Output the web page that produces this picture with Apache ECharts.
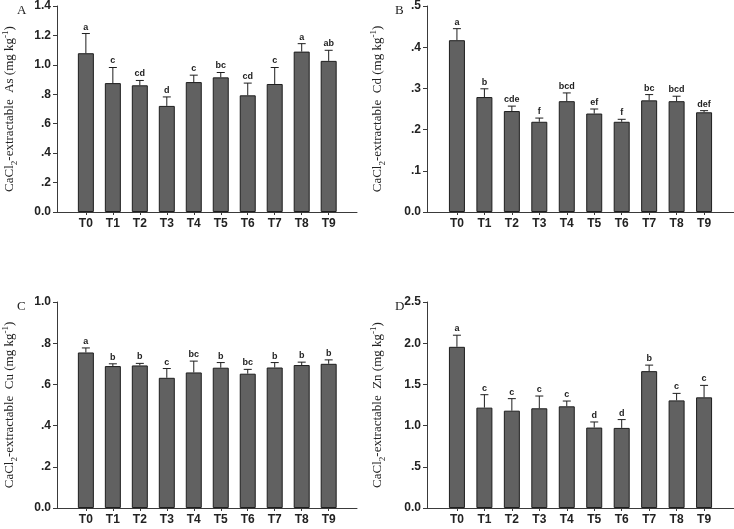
<!DOCTYPE html>
<html>
<head>
    <meta charset="utf-8">
    <title>CaCl2-extractable metals</title>
    <script src="https://cdn.jsdelivr.net/npm/echarts@6/dist/echarts.min.js"></script>
    <style>
        body, html {
            margin: 0;
            background: #fff;
        }

        #main {
            width: 734px;
            height: 529px;
        }
    </style>
</head>
<body>
<div id="main"></div>
<script type="text/javascript">
    var treatments = ['T0', 'T1', 'T2', 'T3', 'T4', 'T5', 'T6', 'T7', 'T8', 'T9'];

    // A: As
    var asMean = [1.079, 0.876, 0.861, 0.721, 0.883, 0.915, 0.793, 0.870, 1.090, 1.027];
    var asTop = [1.213, 0.982, 0.894, 0.782, 0.930, 0.948, 0.876, 0.982, 1.144, 1.099];
    var asLetters = ['a', 'c', 'cd', 'd', 'c', 'bc', 'cd', 'c', 'a', 'ab'];

    // B: Cd
    var cdMean = [0.417, 0.279, 0.245, 0.219, 0.269, 0.239, 0.219, 0.271, 0.269, 0.242];
    var cdTop = [0.445, 0.299, 0.257, 0.228, 0.289, 0.250, 0.225, 0.285, 0.281, 0.246];
    var cdLetters = ['a', 'b', 'cde', 'f', 'bcd', 'ef', 'f', 'bc', 'bcd', 'def'];

    // C: Cu
    var cuMean = [0.755, 0.689, 0.692, 0.632, 0.658, 0.681, 0.652, 0.682, 0.694, 0.700];
    var cuTop = [0.777, 0.700, 0.702, 0.677, 0.713, 0.706, 0.673, 0.706, 0.708, 0.719];
    var cuLetters = ['a', 'b', 'b', 'c', 'bc', 'b', 'bc', 'b', 'b', 'b'];

    // D: Zn
    var znMean = [1.956, 1.218, 1.181, 1.210, 1.234, 0.976, 0.972, 1.661, 1.306, 1.343];
    var znTop = [2.097, 1.375, 1.327, 1.359, 1.298, 1.044, 1.073, 1.734, 1.391, 1.488];
    var znLetters = ['a', 'c', 'c', 'c', 'c', 'd', 'd', 'b', 'c', 'c'];

    var panels = [
        {tag: 'A', metal: 'As', mean: asMean, top: asTop, letters: asLetters, max: 1.4, step: 0.2,
            left: 52, top0: 6, width: 305, xmin: -1.07, xmax: 10.05, gap: 38},
        {tag: 'B', metal: 'Cd', mean: cdMean, top: cdTop, letters: cdLetters, max: 0.5, step: 0.1,
            left: 427, top0: 6, width: 307, xmin: -1.09, xmax: 10.09, gap: 40},
        {tag: 'C', metal: 'Cu', mean: cuMean, top: cuTop, letters: cuLetters, max: 1.0, step: 0.2,
            left: 52, top0: 302, width: 305, xmin: -1.07, xmax: 10.05, gap: 38},
        {tag: 'D', metal: 'Zn', mean: znMean, top: znTop, letters: znLetters, max: 2.5, step: 0.5,
            left: 427, top0: 302, width: 307, xmin: -1.09, xmax: 10.09, gap: 40}
    ];

    var axisColor = '#3a3a3a';
    var sans = 'Arial, "Liberation Sans", sans-serif';
    var serif = '"Times New Roman", "Liberation Serif", serif';

    function tickFmt(v) {
        if (v === 0) return '0.0';
        if (v < 1) return v.toFixed(1).replace('0.', '.');
        return v.toFixed(1);
    }

    var grids = [], xAxes = [], yAxes = [], series = [], titles = [];

    panels.forEach(function (p, k) {
        grids.push({left: p.left, top: p.top0, width: p.width, height: 206});

        xAxes.push({
            type: 'value',
            gridIndex: k,
            min: p.xmin,
            max: p.xmax,
            splitLine: {show: false},
            axisLine: {onZero: false, lineStyle: {color: axisColor, width: 1}},
            axisTick: {customValues: [0, 1, 2, 3, 4, 5, 6, 7, 8, 9], length: 3, lineStyle: {color: axisColor}},
            axisLabel: {
                customValues: [0, 1, 2, 3, 4, 5, 6, 7, 8, 9],
                formatter: function (v) { return treatments[v]; },
                fontFamily: sans,
                fontWeight: 'bold',
                fontSize: 12,
                color: '#222',
                margin: 6
            }
        });

        yAxes.push({
            type: 'value',
            gridIndex: k,
            min: 0,
            max: p.max,
            interval: p.step,
            splitLine: {show: false},
            axisLine: {show: true, onZero: false, lineStyle: {color: axisColor, width: 1}},
            axisTick: {show: true, length: 4, lineStyle: {color: axisColor}},
            axisLabel: {
                formatter: tickFmt,
                fontFamily: sans,
                fontWeight: 'bold',
                fontSize: 12,
                color: '#222',
                margin: 6
            },
            name: '{a|CaCl}{s|2}{a|-extractable  ' + p.metal + ' (mg kg}{p|-1}{a|)}',
            nameLocation: 'middle',
            nameRotate: 90,
            nameGap: p.gap,
            nameTextStyle: {
                rich: {
                    a: {fontFamily: serif, fontSize: 13, color: '#222', lineHeight: 18, verticalAlign: 'middle'},
                    s: {fontFamily: serif, fontSize: 9, color: '#222', lineHeight: 18, verticalAlign: 'bottom'},
                    p: {fontFamily: serif, fontSize: 9, color: '#222', lineHeight: 18, verticalAlign: 'top'}
                }
            }
        });

        titles.push({
            text: p.tag,
            left: p.left - (k % 2 === 0 ? 40 : 37),
            top: p.top0 - 7,
            textStyle: {fontFamily: serif, fontSize: 13, fontWeight: 'normal', color: '#222'}
        });

        series.push({
            type: 'bar',
            xAxisIndex: k,
            yAxisIndex: k,
            barWidth: 16,
            itemStyle: {color: '#616161', borderColor: '#1e1e1e', borderWidth: 1},
            data: p.mean.map(function (v, i) { return [i, v]; }),
            silent: true
        });

        series.push({
            type: 'custom',
            xAxisIndex: k,
            yAxisIndex: k,
            silent: true,
            z: 5,
            data: p.mean.map(function (v, i) { return [i, v, p.top[i]]; }),
            renderItem: function (params, api) {
                var i = api.value(0);
                var base = api.coord([i, api.value(1)]);
                var high = api.coord([i, api.value(2)]);
                var half = 4;
                return {
                    type: 'group',
                    children: [
                        {type: 'line', shape: {x1: base[0], y1: base[1], x2: high[0], y2: high[1]},
                            style: {stroke: '#1e1e1e', lineWidth: 1}},
                        {type: 'line', shape: {x1: high[0] - half, y1: high[1], x2: high[0] + half, y2: high[1]},
                            style: {stroke: '#1e1e1e', lineWidth: 1}},
                        {type: 'text', x: high[0], y: high[1] - 2,
                            style: {text: p.letters[i], x: 0, y: 0, align: 'center', verticalAlign: 'bottom',
                                fontFamily: sans, fontSize: 9, fontWeight: 'bold', fill: '#222'}}
                    ]
                };
            }
        });
    });

    var myChart = echarts.init(document.getElementById('main'));
    myChart.setOption({
        animation: false,
        backgroundColor: '#fff',
        title: titles,
        grid: grids,
        xAxis: xAxes,
        yAxis: yAxes,
        series: series
    });
</script>
</body>
</html>
